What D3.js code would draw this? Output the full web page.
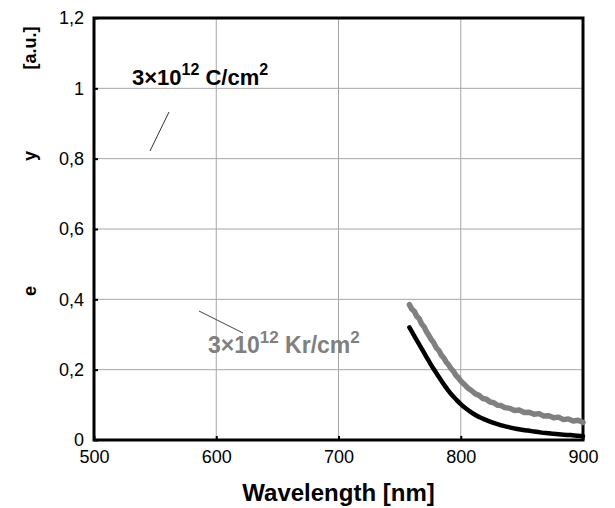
<!DOCTYPE html>
<html>
<head>
<meta charset="utf-8">
<script src="https://cdn.jsdelivr.net/npm/d3@7"></script>
<style>
  body { margin: 0; background: #fff; }
  svg { font-family: "Liberation Sans", Arial, sans-serif; }
</style>
</head>
<body>
<svg id="chart" width="615" height="508"></svg>
<script>
// ---- data ----
const xTicks = [500, 600, 700, 800, 900];
const yTicks = [0, 0.2, 0.4, 0.6, 0.8, 1, 1.2];
const yTickLabels = ["0", "0,2", "0,4", "0,6", "0,8", "1", "1,2"];

// Kr-implanted sample (grey, noisy)
const krWave = [758, 760, 762, 764, 766, 768, 770, 772, 774, 776, 778, 780, 782, 784, 786, 788, 790, 792, 794, 796, 798, 800,
  803, 806, 809, 812, 815, 818, 821, 824, 827, 830, 833, 836, 840, 844, 848, 852, 856, 860, 864, 868, 872, 876, 880, 884, 888, 892, 896, 900];
const krValue = [0.385, 0.372, 0.366, 0.352, 0.345, 0.330, 0.322, 0.308, 0.297, 0.285, 0.276, 0.262, 0.255, 0.242, 0.234, 0.222, 0.214, 0.203, 0.196, 0.184, 0.177, 0.168,
  0.158, 0.147, 0.140, 0.131, 0.127, 0.118, 0.116, 0.108, 0.106, 0.099, 0.098, 0.092, 0.090, 0.084, 0.085, 0.078, 0.079, 0.073, 0.075, 0.068, 0.069, 0.063, 0.065, 0.058, 0.060, 0.054, 0.056, 0.050];

// C-implanted sample (black)
const cWave = [758, 760, 763, 766, 769, 772, 775, 778, 781, 784, 787, 790, 793, 796, 800, 804, 808, 812, 816, 820,
  825, 830, 835, 840, 845, 850, 855, 860, 866, 872, 878, 884, 890, 896, 900];
const cValue = [0.320, 0.308, 0.290, 0.272, 0.254, 0.236, 0.218, 0.201, 0.185, 0.169, 0.154, 0.140, 0.127, 0.116, 0.102, 0.090, 0.080, 0.071, 0.064, 0.058,
  0.051, 0.045, 0.040, 0.036, 0.032, 0.029, 0.027, 0.024, 0.021, 0.019, 0.017, 0.015, 0.014, 0.012, 0.011];

const margin = { top: 18, left: 94, right: 32, bottom: 68 };
const width = 615, height = 508;

const svg = d3.select("#chart");
const g = svg.append("g").attr("transform", `translate(${margin.left},${margin.top})`);
const w = width - margin.left - margin.right;
const h = height - margin.top - margin.bottom;

const x = d3.scaleLinear().domain([500, 900]).range([0, w]);
const y = d3.scaleLinear().domain([0, 1.2]).range([h, 0]);

// grid
g.append("g").selectAll("line").data(xTicks.slice(1, -1)).join("line")
  .attr("x1", d => x(d)).attr("x2", d => x(d)).attr("y1", 0).attr("y2", h)
  .attr("stroke", "#a6a6a6").attr("stroke-width", 1);
g.append("g").selectAll("line").data(yTicks.slice(1, -1)).join("line")
  .attr("x1", 0).attr("x2", w).attr("y1", d => y(d)).attr("y2", d => y(d))
  .attr("stroke", "#a6a6a6").attr("stroke-width", 1);

// axes (ticks pointing inward)
const xAxis = g.append("g").attr("transform", `translate(0,${h})`)
  .call(d3.axisBottom(x).tickValues(xTicks).tickSizeInner(-4).tickSizeOuter(0).tickPadding(10));
const yAxis = g.append("g")
  .call(d3.axisLeft(y).tickValues(yTicks).tickFormat((d, i) => yTickLabels[i]).tickSizeInner(-4).tickSizeOuter(0).tickPadding(10));
[xAxis, yAxis].forEach(a => {
  a.select(".domain").remove();
  a.selectAll("line").attr("stroke", "#000").attr("stroke-width", 2);
  a.selectAll("text").attr("font-size", 18).attr("fill", "#000").style("font-family", "Liberation Sans, Arial, sans-serif");
});

// frame
g.append("rect").attr("x", 0).attr("y", 0).attr("width", w).attr("height", h)
  .attr("fill", "none").attr("stroke", "#000").attr("stroke-width", 3);

// curves
const line = d3.line().x(d => x(d[0])).y(d => y(d[1]));
g.append("path").datum(d3.zip(krWave, krValue))
  .attr("d", line.curve(d3.curveLinear)).attr("fill", "none").attr("stroke", "#808080").attr("stroke-width", 5.5)
  .attr("stroke-linejoin", "round").attr("stroke-linecap", "round");
g.append("path").datum(d3.zip(cWave, cValue))
  .attr("d", line.curve(d3.curveMonotoneX)).attr("fill", "none").attr("stroke", "#000").attr("stroke-width", 4.5)
  .attr("stroke-linejoin", "round").attr("stroke-linecap", "round");

// annotations
function label(px, py, base, ion, color, size) {
  const sup = Math.round(size * 0.72);
  const t = svg.append("text").attr("x", px).attr("y", py)
    .attr("font-size", size).attr("font-weight", "bold").attr("fill", color);
  t.append("tspan").text(base);
  t.append("tspan").attr("font-size", sup).attr("dy", -10).text("12");
  t.append("tspan").attr("dy", 10).text(" " + ion + "/cm");
  t.append("tspan").attr("font-size", sup).attr("dy", -10).text("2");
}
label(132, 85, "3×10", "C", "#000", 22);
label(208, 353, "3×10", "Kr", "#808080", 23);

svg.append("line").attr("x1", 169).attr("y1", 112).attr("x2", 150).attr("y2", 151)
  .attr("stroke", "#333").attr("stroke-width", 1);
svg.append("line").attr("x1", 199).attr("y1", 311).attr("x2", 243).attr("y2", 333)
  .attr("stroke", "#444").attr("stroke-width", 1);

// axis titles
svg.append("text").attr("x", margin.left + w / 2).attr("y", 501)
  .attr("text-anchor", "middle").attr("font-size", 24).attr("font-weight", "bold")
  .text("Wavelength [nm]");

[["e", 291], ["y", 156], ["[a.u.]", 48]].forEach(([s, cy]) => {
  svg.append("text").attr("transform", `translate(36,${cy}) rotate(-90)`)
    .attr("text-anchor", "middle").attr("font-size", 18).attr("font-weight", "bold")
    .text(s);
});
</script>
</body>
</html>
